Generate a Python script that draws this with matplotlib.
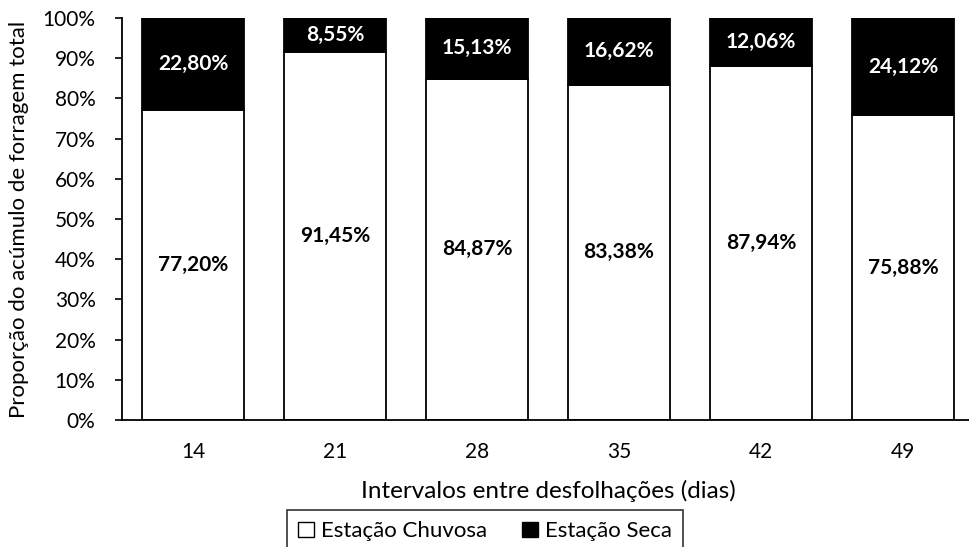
import matplotlib
matplotlib.use("Agg")
import matplotlib.pyplot as plt
from matplotlib.patches import Patch

categories = ["14", "21", "28", "35", "42", "49"]
chuvosa = [77.20, 91.45, 84.87, 83.38, 87.94, 75.88]
seca = [22.80, 8.55, 15.13, 16.62, 12.06, 24.12]
yticks = [0, 10, 20, 30, 40, 50, 60, 70, 80, 90, 100]

plt.rcParams['font.family'] = ['Lato', 'DejaVu Sans']

fig = plt.figure(figsize=(9.69, 5.47), dpi=100)
ax = fig.add_axes([122/969, 1 - 420/547, (974-122)/969, (420-18)/547])

x = list(range(len(categories)))
ax.bar(x, chuvosa, width=0.725, color="white", edgecolor="black", linewidth=1.3, zorder=2)
ax.bar(x, seca, width=0.725, bottom=chuvosa, color="black", edgecolor="black", linewidth=1.3, zorder=2)

for xi, c, s in zip(x, chuvosa, seca):
    ax.text(xi, c / 2, f"{c:.2f}%".replace(".", ","), ha="center", va="center",
            fontsize=15, fontweight="bold", color="black")
    ax.text(xi, c + s / 2, f"{s:.2f}%".replace(".", ","), ha="center", va="center",
            fontsize=15, fontweight="bold", color="white")

ax.set_xlim(-0.5, len(categories) - 0.5)
ax.set_ylim(0, 100)
ax.set_yticks(yticks)
ax.set_yticklabels([f"{t}%" for t in yticks], fontsize=15)
ax.set_xticks(x)
ax.set_xticklabels(categories, fontsize=15)
ax.tick_params(axis="x", length=0, pad=16)
ax.tick_params(axis="y", length=5, width=1.2, direction="out", pad=14)
ax.spines["top"].set_visible(False)
ax.spines["right"].set_visible(False)
ax.spines["left"].set_linewidth(1.3)
ax.spines["bottom"].set_linewidth(1.3)

ax.set_xlabel("Intervalos entre desfolhações (dias)", fontsize=17.5, labelpad=13)
ax.set_ylabel("Proporção do acúmulo de forragem total", fontsize=16, labelpad=10)

handles = [Patch(facecolor="white", edgecolor="black", label="Estação Chuvosa"),
           Patch(facecolor="black", edgecolor="black", label="Estação Seca")]
leg = fig.legend(handles=handles, loc="upper center", bbox_to_anchor=(485/969, 1 - 510/547),
                 ncol=2, fontsize=16, frameon=True, fancybox=False, edgecolor="black",
                 handlelength=0.7, handleheight=0.7, handletextpad=0.3, columnspacing=1.6,
                 borderpad=0.5, borderaxespad=0)
leg.get_frame().set_linewidth(1.2)

fig.savefig("out.png", dpi=100)
